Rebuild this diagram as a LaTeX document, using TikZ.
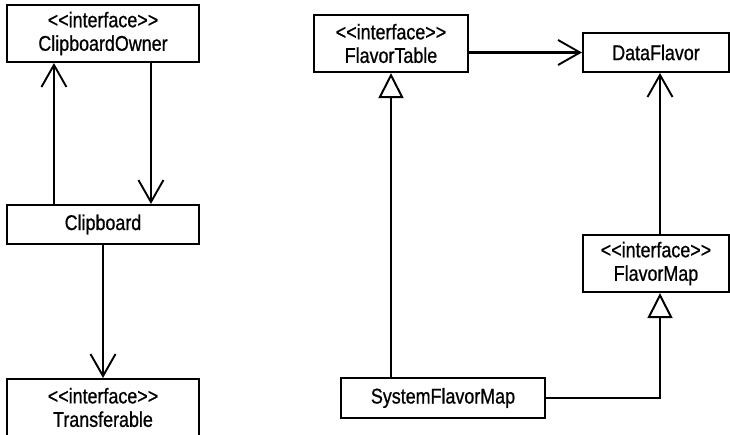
\documentclass[tikz,border=0pt]{standalone}
\usepackage{fontspec}
\setmainfont{Liberation Sans}[FakeStretch=0.84,FakeBold=0.8]
\usetikzlibrary{arrows.meta}
\begin{document}
\begin{tikzpicture}[x=1pt,y=-1pt,
  cls/.style={draw=black, line width=2.1pt, fill=white, inner sep=0pt, align=center,
    font=\fontsize{21.3}{23.5}\selectfont},
  assoc/.style={line width=2.1pt, -{Straight Barb[length=22pt,width=25pt,line width=1.9pt]}, line join=miter},
  gen/.style={line width=2.1pt, -{Triangle[open,length=25pt,width=25pt,line width=2pt,fill=white]}, line join=miter}
]
\useasboundingbox (0,0) rectangle (730,434);
% left diagram
\node[cls, minimum width=192pt, minimum height=57pt] (owner) at (103,33.5) {<{}<interface>{}>\\ClipboardOwner};
\node[cls, minimum width=192pt, minimum height=39pt] (clip) at (103,224.5) {Clipboard};
\node[cls, minimum width=192pt, minimum height=57pt] (trans) at (103,407.5) {<{}<interface>{}>\\Transferable};
% right diagram
\node[cls, minimum width=154pt, minimum height=57pt] (ftable) at (391,43.5) {<{}<interface>{}>\\FlavorTable};
\node[cls, minimum width=146pt, minimum height=39pt] (dflavor) at (656,52.5) {DataFlavor};
\node[cls, minimum width=146pt, minimum height=57pt] (fmap) at (656,263.5) {<{}<interface>{}>\\FlavorMap};
\node[cls, minimum width=204pt, minimum height=40pt] (sfm) at (443,398) {SystemFlavorMap};
% connectors left
\draw[assoc] ([xshift=48pt]clip.north west) -- ([xshift=48pt]owner.south west);
\draw[assoc] ([xshift=145pt]owner.south west) -- ([xshift=145pt]clip.north west);
\draw[assoc] (clip.south) -- (trans.north);
% connectors right
\draw[assoc] (ftable.east |- dflavor.west) -- (dflavor.west);
\draw[gen] (ftable.south |- sfm.north) -- (ftable.south);
\draw[assoc] ([xshift=4pt]fmap.north) -- ([xshift=4pt]dflavor.south);
\draw[gen] (sfm.east) -| ([xshift=4pt]fmap.south);
\end{tikzpicture}
\end{document}
